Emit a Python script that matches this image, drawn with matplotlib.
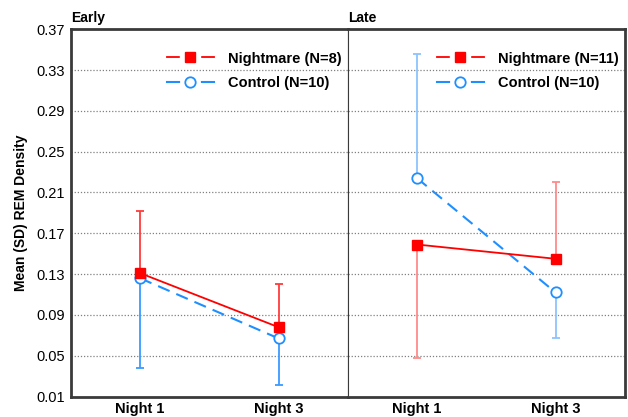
import matplotlib.pyplot as plt
from matplotlib.lines import Line2D
from matplotlib.legend_handler import HandlerTuple

plt.rcParams['font.family'] = ['Liberation Sans', 'DejaVu Sans']

nights = ['Night 1', 'Night 3']
panels = ['Early', 'Late']

# means and SD (one-sided bars as in the original figure)
early_nm = [0.131, 0.078]
early_nm_sd = [0.061, 0.042]
early_ct = [0.126, 0.067]
early_ct_sd = [0.088, 0.046]
late_nm = [0.159, 0.145]
late_nm_sd = [0.111, 0.075]
late_ct = [0.224, 0.112]
late_ct_sd = [0.122, 0.045]

# which side of the mean the SD bar is drawn on
early_nm_dir = ['up', 'up']
early_ct_dir = ['down', 'down']
late_nm_dir = ['down', 'up']
late_ct_dir = ['up', 'down']

nm_labels = ['Nightmare (N=8)', 'Nightmare (N=11)']
ct_labels = ['Control (N=10)', 'Control (N=10)']

yticks = [0.01, 0.05, 0.09, 0.13, 0.17, 0.21, 0.25, 0.29, 0.33, 0.37]

red = '#ff0000'
blue = '#1f8fff'


def split_err(sd, dirs):
    lo = [s if d == 'down' else 0 for s, d in zip(sd, dirs)]
    hi = [s if d == 'up' else 0 for s, d in zip(sd, dirs)]
    return [lo, hi]


fig, axes = plt.subplots(1, 2, figsize=(6.28, 4.17), dpi=100, sharey=True)
fig.subplots_adjust(left=0.1126, right=0.995, bottom=0.049, top=0.930, wspace=0)

data = [
    (early_nm, early_nm_sd, early_nm_dir, early_ct, early_ct_sd, early_ct_dir, '#ff3b3b', '#3a9bff'),
    (late_nm, late_nm_sd, late_nm_dir, late_ct, late_ct_sd, late_ct_dir, '#ff8a8a', '#8cc4ff'),
]

x = [0, 1]
for i, ax in enumerate(axes):
    nm, nm_sd, nm_dir, ct, ct_sd, ct_dir, ecol_r, ecol_b = data[i]
    ax.errorbar(x, nm, yerr=split_err(nm_sd, nm_dir), fmt='none', ecolor=ecol_r,
                elinewidth=1.3, capsize=3, capthick=1.3, zorder=2)
    ax.errorbar(x, ct, yerr=split_err(ct_sd, ct_dir), fmt='none', ecolor=ecol_b,
                elinewidth=1.3, capsize=3, capthick=1.3, zorder=2)
    ax.plot(x, nm, color=red, lw=1.3, marker='s', ms=7, mfc=red, mec=red, zorder=4)
    ax.plot(x, ct, color=blue, lw=1.5, ls=(0, (6, 3.5)), marker='o', ms=7.5,
            mfc='white', mec=blue, mew=1.3, zorder=3)

    ax.set_xlim(-0.5, 1.5)
    ax.set_ylim(0.01, 0.37)
    ax.set_yticks(yticks)
    ax.set_yticklabels([f'{t:.2f}' for t in yticks])
    ax.set_xticks(x)
    ax.set_xticklabels(nights, fontweight='bold', fontsize=10.5)
    ax.tick_params(length=0, labelsize=10.5, pad=4)
    for t in yticks[1:-1]:
        ax.axhline(t, color='#808080', lw=0.9, ls=(0, (1, 1.5)), zorder=1)
    ax.set_title(panels[i], loc='left', fontweight='bold', fontsize=10, pad=5)

    for s in ax.spines.values():
        s.set_color('#3a3a3a')
        s.set_linewidth(2.0)

    h_nm = (Line2D([], [], color=red, lw=1.3),
            Line2D([], [], ls='none', marker='s', ms=14, mfc='white', mec='white'),
            Line2D([], [], ls='none', marker='s', ms=7, mfc=red, mec=red))
    h_ct = (Line2D([], [], color=blue, lw=1.5),
            Line2D([], [], ls='none', marker='o', ms=14, mfc='white', mec='white'),
            Line2D([], [], ls='none', marker='o', ms=7.5, mfc='white', mec=blue, mew=1.3))
    ax.legend([h_nm, h_ct], [nm_labels[i], ct_labels[i]],
              handler_map={tuple: HandlerTuple(ndivide=1)},
              loc='upper right', bbox_to_anchor=(1.0, 0.955), frameon=False,
              prop={'weight': 'bold', 'size': 10.5}, handlelength=3.2,
              handletextpad=1.0, labelspacing=0.75, borderaxespad=0.0)

axes[0].spines['right'].set_linewidth(0.8)
axes[1].spines['left'].set_linewidth(0.8)
axes[1].tick_params(axis='y', left=False, labelleft=False)
axes[0].set_ylabel('Mean (SD) REM Density', fontweight='bold', fontsize=10, labelpad=6)

fig.savefig('out.png', dpi=100)
